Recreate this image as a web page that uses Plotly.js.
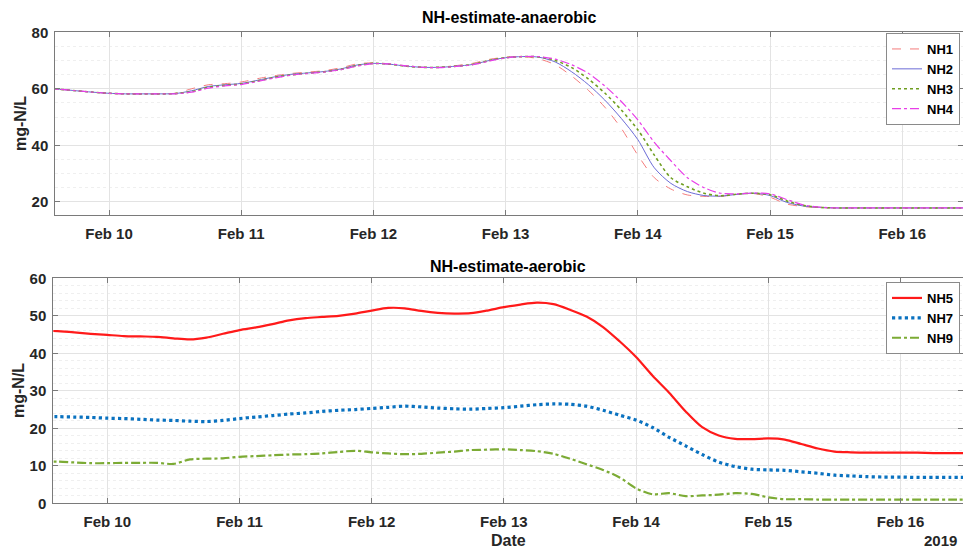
<!DOCTYPE html>
<html><head><meta charset="utf-8">
<script src="https://cdn.plot.ly/plotly-3.0.1.min.js"></script>
<style>html,body{margin:0;padding:0;background:#fff}</style>
</head><body><div id="chart" style="width:963px;height:548px"></div>
<script>
const times = [
"2019-02-09 12:00","2019-02-09 15:00","2019-02-09 18:00","2019-02-09 21:00",
"2019-02-10 00:00","2019-02-10 03:00","2019-02-10 06:00","2019-02-10 09:00","2019-02-10 12:00","2019-02-10 15:00","2019-02-10 18:00","2019-02-10 21:00",
"2019-02-11 00:00","2019-02-11 03:00","2019-02-11 06:00","2019-02-11 09:00","2019-02-11 12:00","2019-02-11 15:00","2019-02-11 18:00","2019-02-11 21:00",
"2019-02-12 00:00","2019-02-12 03:00","2019-02-12 06:00","2019-02-12 09:00","2019-02-12 12:00","2019-02-12 15:00","2019-02-12 18:00","2019-02-12 21:00",
"2019-02-13 00:00","2019-02-13 03:00","2019-02-13 06:00","2019-02-13 09:00","2019-02-13 12:00","2019-02-13 15:00","2019-02-13 18:00","2019-02-13 21:00",
"2019-02-14 00:00","2019-02-14 03:00","2019-02-14 06:00","2019-02-14 09:00","2019-02-14 12:00","2019-02-14 15:00","2019-02-14 18:00","2019-02-14 21:00",
"2019-02-15 00:00","2019-02-15 03:00","2019-02-15 06:00","2019-02-15 09:00","2019-02-15 12:00","2019-02-15 15:00","2019-02-15 18:00","2019-02-15 21:00",
"2019-02-16 00:00","2019-02-16 03:00","2019-02-16 06:00","2019-02-16 09:00","2019-02-16 12:00"];

const NH1 = [60.0,59.8,59.3,58.8, 58.4,58.2,58.2,58.2,58.4,60.0,61.4,61.8, 62.4,63.6,64.6,65.4,65.9,66.4,67.4,68.8,
 69.2,68.7,68.0,67.6,67.6,68.2,69.0,70.4, 71.2,71.4,70.6,68.5,64.5,59.5,53.5,46.0, 36.5,28.5,24.5,22.4,21.9,21.9,22.6,22.9,
 21.6,19.2,18.3,17.9,17.8,17.8,17.8,17.8, 17.8,17.8,17.8,17.8,17.8];
const NH2 = [60.0,59.8,59.3,58.8, 58.4,58.2,58.2,58.2,58.3,59.3,60.8,61.4, 61.9,63.0,64.2,65.1,65.6,66.1,67.0,68.4,
 69.0,68.7,68.0,67.6,67.6,68.0,68.6,70.0, 71.0,71.4,71.2,69.5,66.0,61.5,56.0,49.5, 42.0,32.0,26.5,23.6,22.2,22.0,22.6,23.0,
 22.2,19.8,18.5,18.0,17.8,17.8,17.8,17.8, 17.8,17.8,17.8,17.8,17.8];
const NH3 = [60.0,59.8,59.3,58.8, 58.4,58.2,58.2,58.2,58.3,59.0,60.5,61.2, 61.7,62.8,64.0,64.9,65.5,66.0,66.8,68.2,
 69.0,68.7,68.0,67.6,67.6,68.0,68.6,70.0, 71.0,71.4,71.3,70.0,67.5,63.5,58.5,52.5, 45.5,36.5,28.5,25.3,23.0,22.1,22.7,23.0,
 22.5,20.3,18.7,18.0,17.8,17.8,17.8,17.8, 17.8,17.8,17.8,17.8,17.8];
const NH4 = [60.0,59.8,59.3,58.8, 58.4,58.2,58.2,58.2,58.2,58.8,60.2,61.0, 61.5,62.6,63.8,64.8,65.4,65.9,66.7,68.0,
 68.9,68.8,68.1,67.6,67.5,67.9,68.5,69.8, 70.9,71.4,71.4,70.5,68.5,65.5,61.0,55.5, 49.0,41.0,34.5,28.5,25.0,23.0,22.8,23.1,
 22.8,20.8,18.9,18.1,17.8,17.8,17.8,17.8, 17.8,17.8,17.8,17.8,17.8];

const NH5 = [46.0,45.9,45.6,45.2, 44.9,44.6,44.5,44.4,44.0,43.7,44.2,45.2, 46.2,46.9,47.8,48.8,49.4,49.7,50.0,50.6,
 51.4,52.1,52.0,51.3,50.8,50.6,50.7,51.4, 52.3,53.0,53.5,53.1,51.6,49.8,47.0,43.2, 39.0,34.0,29.5,24.5,20.3,18.1,17.2,17.1,
 17.3,17.0,15.8,14.6,13.8,13.6,13.5,13.5, 13.5,13.5,13.4,13.4,13.4];
const NH7 = [23.1,23.1,23.0,22.9, 22.7,22.6,22.4,22.2,22.1,21.9,21.8,22.1, 22.6,23.0,23.4,23.8,24.1,24.5,24.8,25.0,
 25.3,25.6,25.9,25.7,25.4,25.2,25.1,25.3, 25.5,25.9,26.3,26.5,26.4,25.9,24.8,23.5, 22.2,20.2,17.6,15.3,13.0,11.0,9.8,9.1,
 8.9,8.8,8.4,8.0,7.5,7.3,7.1,7.0, 7.0,6.9,6.9,6.9,6.9];
const NH9 = [11.1,11.1,10.9,10.7, 10.7,10.8,10.8,10.8,10.5,11.7,11.9,12.0, 12.4,12.6,12.8,13.0,13.1,13.3,13.7,14.0,
 13.6,13.3,13.1,13.2,13.5,13.8,14.2,14.3, 14.4,14.2,13.9,13.2,11.9,10.4,8.9,6.9, 4.0,2.4,2.7,1.9,2.1,2.3,2.7,2.5,
 1.6,1.1,1.1,1.0,1.0,1.0,1.0,1.0, 1.0,1.0,1.0,1.0,1.0];

const topTicks = [20,40,60,80];
const botTicks = [0,10,20,30,40,50,60];

const FONT = 'Liberation Sans, Arial, Helvetica, sans-serif';
const tickFont = {family: FONT, size: 15, color: '#262626', weight: 'bold'};

function tr(name, y, color, dash, width, xa, ya, lg) {
  return {x: times, y: y, name: name, type: 'scatter', mode: 'lines',
    line: {color: color, dash: dash, width: width, shape: 'spline', smoothing: 0.8},
    xaxis: xa, yaxis: ya, legend: lg};
}

const data = [
  tr('NH1', NH1, '#f47c7c', 'dash', 1, 'x', 'y', 'legend'),
  tr('NH2', NH2, '#6b6bd6', 'solid', 1, 'x', 'y', 'legend'),
  tr('NH3', NH3, '#6f9e20', 'dot', 1.6, 'x', 'y', 'legend'),
  tr('NH4', NH4, '#e83ee8', 'dashdot', 1.2, 'x', 'y', 'legend'),
  tr('NH5', NH5, '#ff1a1a', 'solid', 2.2, 'x2', 'y2', 'legend2'),
  tr('NH7', NH7, '#0a72c0', 'dot', 3.2, 'x2', 'y2', 'legend2'),
  tr('NH9', NH9, '#7cab35', 'dashdot', 2.2, 'x2', 'y2', 'legend2')
];

function xax(domain, range, anchor) {
  return {type: 'date', domain: domain, range: range, anchor: anchor,
    tick0: '2019-02-10', dtick: 86400000, tickformat: '%b %d',
    ticks: 'inside', ticklen: 5, tickcolor: '#7a7a7a', tickwidth: 1,
    showline: true, linecolor: '#7a7a7a', linewidth: 1, mirror: 'ticks',
    showgrid: true, gridcolor: '#e3e3e3', gridwidth: 1,
    tickfont: tickFont, ticklabelstandoff: 5, zeroline: false};
}
function yax(domain, range, tickvals, minorDtick, anchor) {
  return {domain: domain, range: range, anchor: anchor,
    tickvals: tickvals, ticks: 'inside', ticklen: 5, tickcolor: '#7a7a7a',
    showline: true, linecolor: '#7a7a7a', linewidth: 1, mirror: 'ticks',
    showgrid: true, gridcolor: '#e3e3e3', zeroline: false,
    minor: {tick0: 0, dtick: minorDtick, showgrid: true, gridcolor: '#efefef', griddash: 'dot', gridwidth: 1},
    tickfont: tickFont, ticklabelstandoff: 3};
}

const legBase = {font: {family: FONT, size: 13, color: '#000', weight: 'bold'},
  bgcolor: '#ffffff', bordercolor: '#8a8a8a', borderwidth: 1,
  xanchor: 'right', yanchor: 'top', itemwidth: 30, tracegroupgap: 0};

const layout = {
  width: 963, height: 548,
  margin: {l: 0, r: 0, t: 0, b: 0},
  paper_bgcolor: '#ffffff', plot_bgcolor: '#ffffff',
  showlegend: true,
  xaxis: xax([55.3/963, 1], ['2019-02-09 14:15', '2019-02-16 11:02'], 'y'),
  yaxis: yax([333/548, 515.7/548], [15.3, 80], topTicks, 5, 'x'),
  xaxis2: xax([53.3/963, 1], ['2019-02-09 14:12', '2019-02-16 11:21'], 'y2'),
  yaxis2: yax([44.7/548, 269.7/548], [0, 60], botTicks, 2, 'x2'),
  legend: Object.assign({x: 960/963, y: (548-33)/548}, legBase),
  legend2: Object.assign({x: 960/963, y: (548-282)/548}, legBase),
  annotations: [
    {text: 'NH-estimate-anaerobic', x: 509/963, y: (548-17)/548, xref: 'paper', yref: 'paper', showarrow: false,
     font: {family: FONT, size: 16, color: '#000', weight: 'bold'}, xanchor: 'center', yanchor: 'middle'},
    {text: 'NH-estimate-aerobic', x: 508/963, y: (548-266)/548, xref: 'paper', yref: 'paper', showarrow: false,
     font: {family: FONT, size: 16, color: '#000', weight: 'bold'}, xanchor: 'center', yanchor: 'middle'},
    {text: 'mg-N/L', x: 21/963, y: (548-124)/548, xref: 'paper', yref: 'paper', showarrow: false, textangle: -90,
     font: {family: FONT, size: 16, color: '#262626', weight: 'bold'}, xanchor: 'center', yanchor: 'middle'},
    {text: 'mg-N/L', x: 19/963, y: (548-391)/548, xref: 'paper', yref: 'paper', showarrow: false, textangle: -90,
     font: {family: FONT, size: 16, color: '#262626', weight: 'bold'}, xanchor: 'center', yanchor: 'middle'},
    {text: 'Date', x: 508/963, y: (548-540)/548, xref: 'paper', yref: 'paper', showarrow: false,
     font: {family: FONT, size: 16, color: '#262626', weight: 'bold'}, xanchor: 'center', yanchor: 'middle'},
    {text: '2019', x: 940/963, y: (548-540)/548, xref: 'paper', yref: 'paper', showarrow: false,
     font: {family: FONT, size: 15, color: '#262626', weight: 'bold'}, xanchor: 'center', yanchor: 'middle'}
  ]
};

Plotly.newPlot('chart', data, layout, {displayModeBar: false, responsive: false});
</script>
</body></html>
